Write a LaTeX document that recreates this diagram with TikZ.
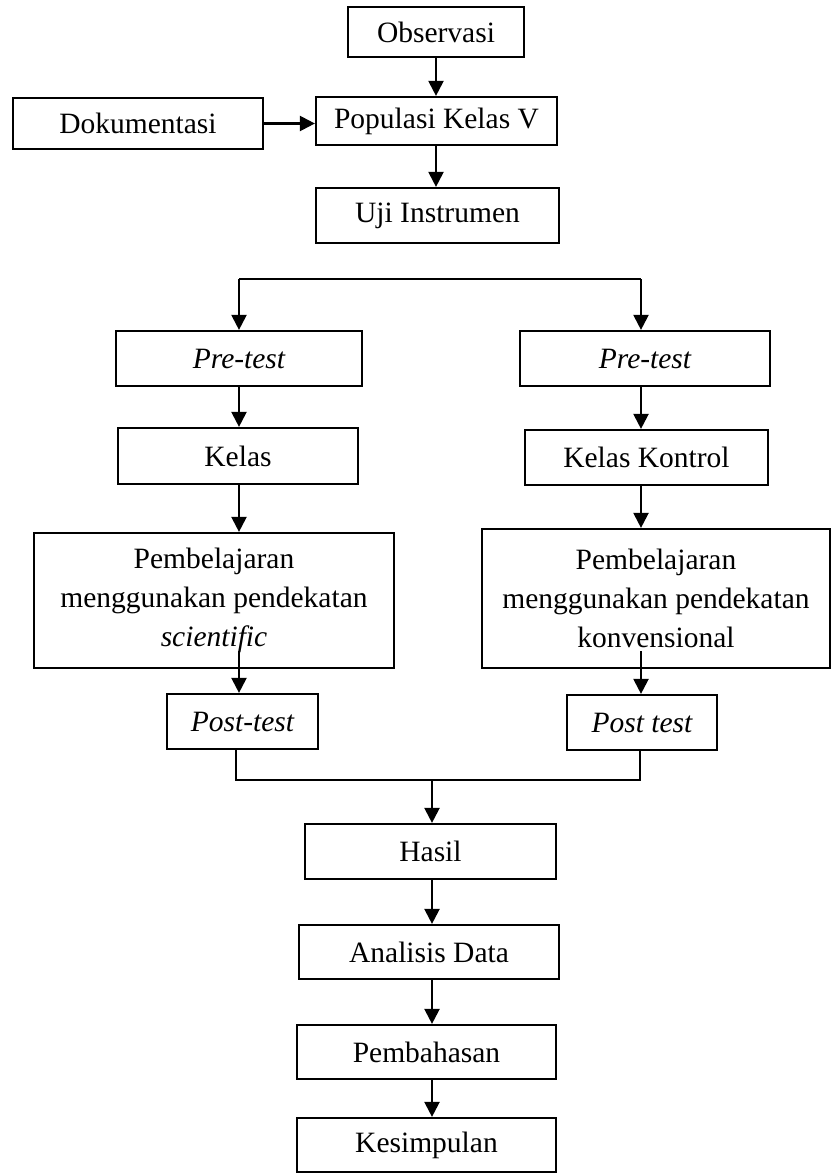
\documentclass[tikz,border=0pt]{standalone}
\usepackage{fontspec}
\setmainfont{Liberation Serif}
\usetikzlibrary{arrows.meta,calc}
\begin{document}
\begin{tikzpicture}[x=1pt,y=-1pt,
  box/.style={draw, line width=2.2pt, inner sep=0pt, align=center, font=\fontsize{29.5}{39}\selectfont},
  arr/.style={line width=2.2pt, -{Triangle[length=15pt,width=15pt]}},
  ln/.style={line width=2.2pt}]
\useasboundingbox (0,0) rectangle (832,1175);
\fill[white] (0,0) rectangle (832,1175);
% top
\node[box, minimum width=176pt, minimum height=50pt] (obs) at (436,32) {Observasi};
\node[box, minimum width=250pt, minimum height=51pt] (dok) at (138,123.5) {Dokumentasi};
\node[box, minimum width=241pt, minimum height=48pt] (pop) at (436.5,121) {Populasi Kelas V};
\node[box, minimum width=243pt, minimum height=55pt] (uji) at (437.5,215.5) {Uji Instrumen};
% branches
\node[box, minimum width=246pt, minimum height=55pt] (preL) at (239,358.5) {\itshape Pre-test};
\node[box, minimum width=250pt, minimum height=55pt] (preR) at (645,358.5) {\itshape Pre-test};
\node[box, minimum width=240pt, minimum height=56pt] (kelL) at (238,456) {Kelas};
\node[box, minimum width=243pt, minimum height=55pt] (kelR) at (646.5,457.5) {Kelas Kontrol};
\node[box, minimum width=360pt, minimum height=135pt] (pembL) at (214,600.5) {Pembelajaran\\menggunakan pendekatan\\\itshape scientific};
\node[box, minimum width=348pt, minimum height=139pt] (pembR) at (656,598.5) {Pembelajaran\\menggunakan pendekatan\\konvensional};
\node[box, minimum width=151pt, minimum height=55pt] (postL) at (242.5,721.5) {\itshape Post-test};
\node[box, minimum width=150pt, minimum height=55pt] (postR) at (642,722.5) {\itshape Post test};
% bottom
\node[box, minimum width=251pt, minimum height=55pt] (hasil) at (430.5,851.5) {Hasil};
\node[box, minimum width=260pt, minimum height=54pt] (anal) at (429,952) {Analisis Data};
\node[box, minimum width=259pt, minimum height=54pt] (bahas) at (426.5,1052) {Pembahasan};
\node[box, minimum width=259pt, minimum height=54pt] (kes) at (426.5,1145) {Kesimpulan};
% connectors top
\draw[arr] (obs.south) -- (obs.south |- pop.north);
\draw[arr] (dok.east) -- (dok.east -| pop.west);
\draw[arr] (obs.south |- pop.south) -- (obs.south |- uji.north);
% split
\coordinate (sL) at (239,279);
\coordinate (sR) at (641,279);
\draw[ln] (sL) -- (sR);
\draw[arr] (sL) -- (sL |- preL.north);
\draw[arr] (sR) -- (sR |- preR.north);
\draw[arr] (sL |- preL.south) -- (sL |- kelL.north);
\draw[arr] (sR |- preR.south) -- (sR |- kelR.north);
\draw[arr] (sL |- kelL.south) -- (sL |- pembL.north);
\draw[arr] (sR |- kelR.south) -- (sR |- pembR.north);
\draw[arr] ([yshift=18pt]sL |- pembL.south) -- (sL |- postL.north);
\draw[arr] ([yshift=18pt]sR |- pembR.south) -- (sR |- postR.north);
% join
\coordinate (jL) at (236,780);
\coordinate (jR) at (640,780);
\coordinate (jM) at (432,780);
\draw[ln] (jL |- postL.south) -- (jL) -- (jR) -- (jR |- postR.south);
\draw[arr] (jM) -- (jM |- hasil.north);
\draw[arr] (jM |- hasil.south) -- (jM |- anal.north);
\draw[arr] (jM |- anal.south) -- (jM |- bahas.north);
\draw[arr] (jM |- bahas.south) -- (jM |- kes.north);
\end{tikzpicture}
\end{document}
